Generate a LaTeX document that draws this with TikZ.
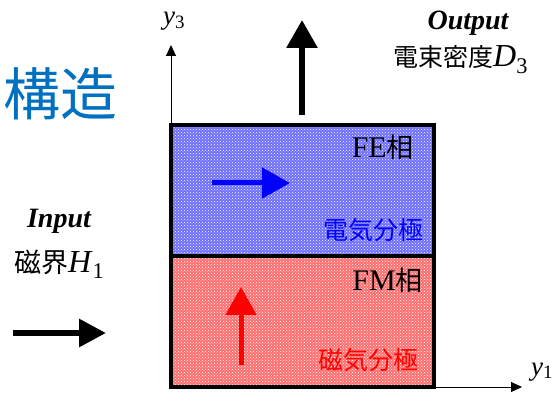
\documentclass[tikz,border=0pt]{standalone}
\usepackage{fontspec}
\setmainfont{Liberation Serif}
\newfontfamily\jpfont{Noto Sans CJK JP}
\usetikzlibrary{arrows.meta, patterns, positioning}

\definecolor{titleblue}{RGB}{0,112,192}
\definecolor{feblue}{RGB}{110,110,255}
\definecolor{fmred}{RGB}{255,110,110}

% Japanese text at a given size
\newcommand{\jpt}[2]{{\jpfont\fontsize{#1}{#1}\selectfont #2}}

\begin{document}
\begin{tikzpicture}[x=1pt, y=-1pt,
    phase/.style={draw=black, line width=3.5pt, outer sep=0pt, inner sep=0pt,
      minimum width=263pt, minimum height=131pt,
      pattern=crosshatch dots, pattern color=white},
    bigarrow/.style={line width=6pt, -{Triangle[length=28pt, width=30pt]}},
    axis/.style={line width=1pt, -{Triangle[length=11pt, width=10pt]}},
    txt/.style={inner sep=0pt}]

  \useasboundingbox (0,0) rectangle (554,398);

  % --- Title ---
  \node[txt, text=titleblue, font=\jpfont\fontsize{57}{57}\selectfont] (title) at (60,94) {構造};

  % --- Two phase layers (FE on top, FM below) ---
  \node[phase, preaction={fill=feblue}, anchor=south west] (fe) at (171,256) {};
  \node[phase, preaction={fill=fmred}, anchor=north west] (fm) at (fe.south west) {};

  % --- Axes ---
  \coordinate (y3end) at (171,45);
  \coordinate (y1end) at (522,387);
  \draw[axis] (fe.north west) -- (y3end);
  \draw[axis] (fm.south east) -- (y1end);
  \node[txt, anchor=base west] (y3lbl) at (163,25) {\fontsize{27}{27}\selectfont\textit{y}\textsubscript{3}};
  \node[txt, anchor=base west] (y1lbl) at (531,375) {\fontsize{27}{27}\selectfont\textit{y}\textsubscript{1}};

  % --- Phase labels ---
  \node[txt, anchor=base east] (felbl) at (414,158) {\fontsize{30}{30}\selectfont FE\jpt{27}{相}};
  \node[txt, text=blue] (fepol) at (373,230) {\jpt{25}{電気分極}};
  \node[txt, anchor=base east] (fmlbl) at (423,290) {\fontsize{30}{30}\selectfont FM\jpt{27}{相}};
  \node[txt, text=red] (fmpol) at (368,360) {\jpt{25}{磁気分極}};

  % --- Polarization arrows ---
  \coordinate (pa) at (212,183);
  \coordinate (pb) at (290,183);
  \draw[bigarrow, blue, line width=5pt] (pa) -- (pb);
  \coordinate (ma) at (241,365);
  \coordinate (mb) at (241,287);
  \draw[bigarrow, red, line width=5pt] (ma) -- (mb);

  % --- Output (top right) ---
  \coordinate (oa) at (302,115);
  \coordinate (ob) at (302,20);
  \draw[bigarrow] (oa) -- (ob);
  \node[txt, anchor=base] (outlbl) at (468,30) {\fontsize{28}{28}\selectfont\bfseries\itshape Output};
  \node[txt, anchor=base west] (outqty) at (393,67) {\jpt{25}{電束密度}\fontsize{32}{32}\selectfont\textit{D}\textsubscript{3}};

  % --- Input (left) ---
  \node[txt, anchor=base] (inlbl) at (59,228) {\fontsize{28}{28}\selectfont\bfseries\itshape Input};
  \node[txt, anchor=base west] (inqty) at (14,272) {\jpt{27}{磁界}\fontsize{32}{32}\selectfont\textit{H}\textsubscript{1}};
  \coordinate (ia) at (13,333);
  \coordinate (ib) at (106,333);
  \draw[bigarrow, -{Triangle[length=27pt, width=27pt]}] (ia) -- (ib);

\end{tikzpicture}
\end{document}
